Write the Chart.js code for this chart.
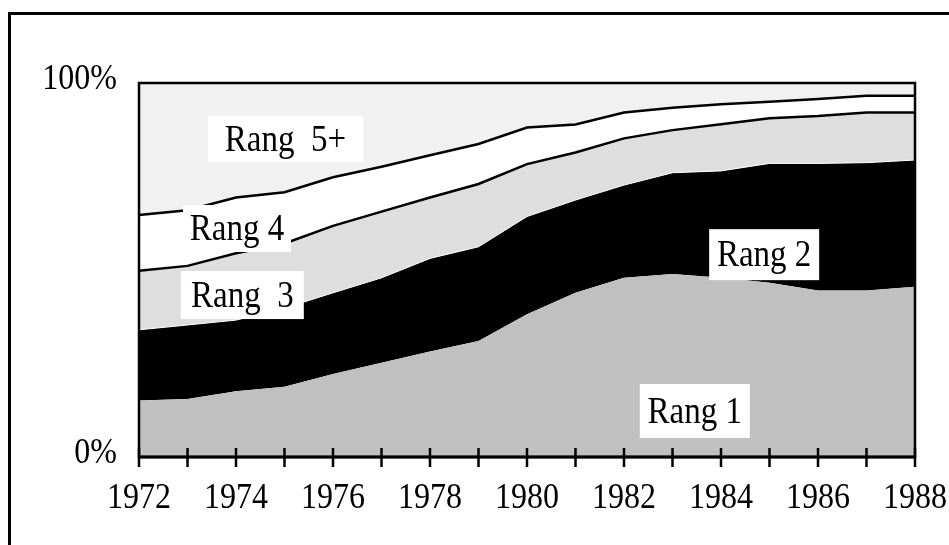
<!DOCTYPE html>
<html>
<head>
<meta charset="utf-8">
<script src="https://cdn.jsdelivr.net/npm/chart.js@4/dist/chart.umd.min.js"></script>
<style>
  html, body { margin: 0; padding: 0; background: #fff; }
  #wrap { width: 949px; height: 545px; }
</style>
</head>
<body>
<div id="wrap"><canvas id="myChart"></canvas></div>
<script>
// values, share of each rank in %
const years = ['1972', '1973', '1974', '1975', '1976', '1977', '1978', '1979', '1980',
               '1981', '1982', '1983', '1984', '1985', '1986', '1987', '1988'];
const rang1 = [15.1, 15.5, 17.6, 18.8, 22.2, 25.2, 28.2, 31.0, 38.2, 43.9, 47.9, 48.9, 47.9, 46.6, 44.5, 44.5, 45.5];
const rang2 = [18.9, 19.8, 19.0, 21.0, 21.7, 22.7, 24.9, 25.2, 26.1, 24.8, 24.8, 27.1, 28.6, 31.9, 34.0, 34.2, 33.9];
const rang3 = [15.8, 15.8, 17.9, 17.3, 17.9, 17.7, 16.3, 16.8, 14.0, 12.7, 12.5, 11.4, 12.5, 12.1, 12.7, 13.4, 12.7];
const rang4 = [14.9, 14.9, 14.9, 13.7, 13.0, 12.0, 11.3, 10.7, 9.8, 7.5, 6.9, 6.0, 5.3, 4.4, 4.5, 4.5, 4.5];
const rang5 = [35.3, 34.0, 30.6, 29.2, 25.2, 22.4, 19.3, 16.3, 11.9, 11.1, 7.9, 6.6, 5.7, 5.0, 4.3, 3.4, 3.4];
const yTicks = [0, 100];

// in-chart labels: [text, category index, value %, box w, box h]
const areaLabels = [
    ['Rang  5+', 3.02, 85.0, 155, 46],
    ['Rang 4', 2.02, 61.1, 108, 47],
    ['Rang  3', 2.13, 43.3, 123, 48],
    ['Rang 2', 12.89, 54.1, 110, 51],
    ['Rang 1', 11.46, 12.3, 110, 54]
];

Chart.defaults.font.family = '"Liberation Serif", "Times New Roman", serif';
Chart.defaults.font.size = 32;
Chart.defaults.color = '#000';

const SERIF = '"Liberation Serif", "Times New Roman", serif';
const STRETCH = 1.12; // the original glyphs are a little taller than wide

function drawText(ctx, txt, x, y, size, align) {
    ctx.save();
    ctx.translate(x, y);
    ctx.scale(1, STRETCH);
    ctx.font = size + 'px ' + SERIF;
    ctx.fillStyle = '#000';
    ctx.textAlign = align;
    ctx.textBaseline = 'middle';
    ctx.fillText(txt, 0, 0);
    ctx.restore();
}

const framePlugin = {
    id: 'frame',
    beforeDraw(chart) {
        const ctx = chart.ctx;
        ctx.save();
        ctx.fillStyle = '#fff';
        ctx.fillRect(0, 0, chart.width, chart.height);
        ctx.restore();
    },
    afterDatasetsDraw(chart) {
        const { ctx, chartArea: a, scales } = chart;
        const x = scales.x, y = scales.y;
        ctx.save();
        ctx.strokeStyle = '#000';
        // plot border
        ctx.lineWidth = 2.5;
        ctx.strokeRect(a.left, a.top, a.right - a.left, a.bottom - a.top);
        // x axis line, a bit heavier
        ctx.lineWidth = 3;
        ctx.beginPath();
        ctx.moveTo(a.left, a.bottom);
        ctx.lineTo(a.right, a.bottom);
        ctx.stroke();
        // tick marks crossing the axis
        ctx.lineWidth = 2.5;
        x.ticks.forEach((t, i) => {
            const px = x.getPixelForTick(i);
            ctx.beginPath();
            ctx.moveTo(px, a.bottom - 9);
            ctx.lineTo(px, a.bottom + 10);
            ctx.stroke();
        });
        // outer frame (runs off the page on right and bottom)
        ctx.lineWidth = 3;
        ctx.strokeRect(9.5, 13.5, 1000, 1000);

        // tick labels
        x.ticks.forEach((t, i) => {
            if (i % 2 === 0) drawText(ctx, years[i], x.getPixelForTick(i), a.bottom + 42, 32, 'center');
        });
        yTicks.forEach(v => {
            drawText(ctx, v + '%', a.left - 22, y.getPixelForValue(v) - 3, 32, 'right');
        });

        // label boxes
        areaLabels.forEach(([txt, xi, v, w, h]) => {
            const cx = x.getPixelForValue(xi);
            const cy = y.getPixelForValue(v);
            ctx.fillStyle = '#fff';
            ctx.fillRect(cx - w / 2, cy - h / 2, w, h);
            drawText(ctx, txt, cx, cy + 2, 33, 'center');
        });
        ctx.restore();
    }
};

const data = {
    labels: years,
    datasets: [
        { label: 'Rang 1', data: rang1, backgroundColor: '#c0c0c0', borderWidth: 0, fill: 'origin' },
        // thin light edge along the top of the black band
        { label: 'Rang 2', data: rang2, backgroundColor: '#000000', borderColor: '#ffffff', borderWidth: 1, fill: '-1' },
        { label: 'Rang 3', data: rang3, backgroundColor: '#dedede', borderColor: '#000', borderWidth: 2.5, fill: '-1' },
        { label: 'Rang 4', data: rang4, backgroundColor: '#ffffff', borderColor: '#000', borderWidth: 2.5, fill: '-1' },
        { label: 'Rang 5+', data: rang5, backgroundColor: '#f1f1f1', borderWidth: 0, fill: '-1' }
    ]
};

const config = {
    type: 'line',
    data: data,
    options: {
        responsive: true,
        maintainAspectRatio: false,
        animation: false,
        layout: {
            padding: { top: 83, right: 34, left: 0, bottom: 0 }
        },
        elements: {
            point: { radius: 0 },
            line: { tension: 0 }
        },
        scales: {
            x: {
                offset: false,
                grid: { display: false, drawOnChartArea: false },
                border: { display: false },
                ticks: {
                    autoSkip: false,
                    maxRotation: 0,
                    callback: () => '' // labels drawn by the plugin
                },
                afterFit(scale) { scale.height = 88; }
            },
            y: {
                stacked: true,
                min: 0,
                max: 100,
                grid: { display: false, drawTicks: false },
                border: { display: false },
                afterBuildTicks(scale) {
                    scale.ticks = yTicks.map(v => ({ value: v }));
                },
                ticks: {
                    color: 'rgba(0,0,0,0)',
                    callback: v => v + '%'
                },
                afterFit(scale) { scale.width = 139; }
            }
        },
        plugins: {
            legend: { display: false },
            tooltip: { enabled: false },
            filler: { propagate: false, drawTime: 'beforeDatasetsDraw' }
        }
    },
    plugins: [framePlugin]
};

new Chart(document.getElementById('myChart'), config);
</script>
</body>
</html>
